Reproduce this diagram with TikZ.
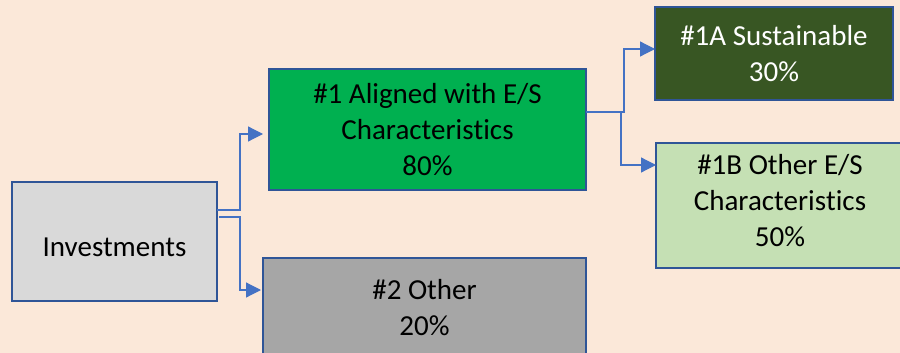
\documentclass[tikz,border=0pt]{standalone}
\usepackage{fontspec}
\setmainfont[Ligatures={NoCommon,NoRequired,NoContextual}]{Carlito}
\usetikzlibrary{arrows.meta}
\definecolor{bgpeach}{HTML}{FBE8D9}
\definecolor{bordblue}{HTML}{2F5597}
\definecolor{arrblue}{HTML}{4472C4}
\definecolor{brightgreen}{HTML}{00B050}
\definecolor{darkgreen}{HTML}{385623}
\definecolor{lightgreen}{HTML}{C5E0B4}
\definecolor{midgray}{HTML}{A6A6A6}
\definecolor{lightgray}{HTML}{D9D9D9}
\newcommand\charword{Characteris\kern0pt tics}
\tikzset{
  box/.style={draw=bordblue, line width=2pt, rectangle, inner sep=0pt, outer sep=0pt,
    align=center, font=\fontsize{29}{36}\selectfont},
  txt/.style={inner sep=0pt, align=center, font=\fontsize{29}{36}\selectfont},
  conn/.style={draw=arrblue, line width=1.2pt, -{Triangle[length=15pt,width=15pt]}}
}
\begin{document}
\begin{tikzpicture}[x=1pt,y=-1pt]
\useasboundingbox (0,0) rectangle (900,353);
\clip (0,0) rectangle (900,353);
\fill[bgpeach] (0,0) rectangle (900,353);
\node[box, fill=lightgray, minimum width=205pt, minimum height=119pt] (inv) at (114.5,241.5) {\raisebox{-14.5pt}[0pt][0pt]{Investments}};
\node[box, fill=brightgreen, minimum width=317pt, minimum height=121pt] (a1) at (427.5,129.5) {\#1 Aligned with E/S\\\charword\\80\%};
\node[box, fill=midgray, minimum width=323pt, minimum height=100pt] (o2) at (424.5,308) {\#2 Other\\20\%};
\node[box, fill=darkgreen, text=white, minimum width=238pt, minimum height=93pt] (s1a) at (774,53.5) {\#1A Sustainable\\30\%};
\node[box, fill=lightgreen, minimum width=262pt, minimum height=125pt] (s1b) at (787,205.5) {};
\node[txt] (s1btext) at (780,201) {\#1B Other E/S\\\charword\\50\%};
\draw[conn, shorten >=6pt] ([yshift=31.5pt]inv.east) -- ++(23pt,0) |- ([yshift=-4.5pt]a1.west);
\draw[conn, shorten >=2pt] ([yshift=24.5pt,xshift=2pt]inv.east) -- ++(21pt,0) |- ([yshift=18pt]o2.west);
\draw[conn] ([yshift=17.5pt]a1.east) -- ++(38pt,0) |- ([yshift=4.5pt]s1a.west);
\draw[conn] ([yshift=17.5pt]a1.east) -- ++(35pt,0) |- ([yshift=40.5pt]s1b.west);
\end{tikzpicture}
\end{document}
